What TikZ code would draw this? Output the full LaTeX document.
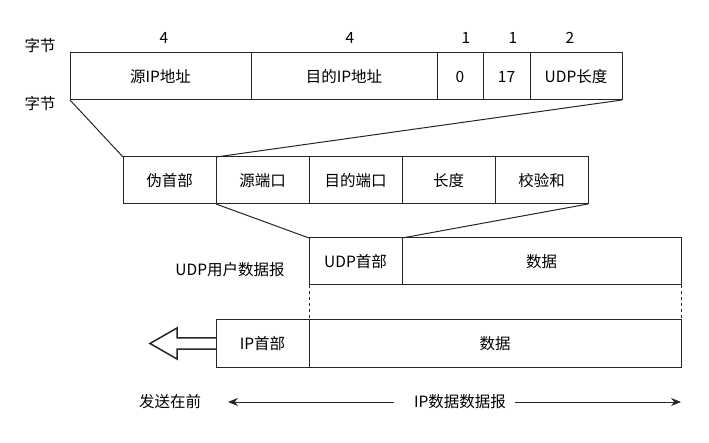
\documentclass[tikz,border=0pt]{standalone}
\usepackage{fontspec}
\setmainfont{Noto Sans CJK SC}
\usetikzlibrary{arrows.meta}
\tikzset{
	field/.style={draw=black!85, line width=1pt, inner sep=0pt, outer sep=0pt, minimum height=47pt},
	lbl/.style={inner sep=0pt, outer sep=0pt},
	link/.style={draw=black!85, line width=1pt}
}

\begin{document}
\begin{tikzpicture}[x=1pt, y=-1pt, font=\fontsize{15.5}{18}\selectfont]
		%%%%% START %%%%%
		\useasboundingbox (0, 0) rectangle (709, 443);
		
		\node[lbl] (unit1) at (40, 46) {字节};
		\node[lbl] (unit2) at (40, 104) {字节};
		
		\node[lbl] (n1) at (164, 38) {4};
		\node[lbl] (n2) at (350, 38) {4};
		\node[lbl] (n3) at (466, 38) {1};
		\node[lbl] (n4) at (513, 38) {1};
		\node[lbl] (n5) at (570, 38) {2};
		
		% pseudo header fields
		\node[field, minimum width=181pt] (srcip) at (160.5, 76.5) {源IP地址};
		\node[field, minimum width=186pt] (dstip) at (344, 76.5) {目的IP地址};
		\node[field, minimum width=46pt] (zero) at (460, 76.5) {0};
		\node[field, minimum width=47pt] (proto) at (506.5, 76.5) {17};
		\node[field, minimum width=92pt] (udplen) at (576, 76.5) {UDP长度};
		
		% udp header with pseudo header
		\node[field, minimum width=93pt] (pseudo) at (169.5, 180.5) {伪首部};
		\node[field, minimum width=93pt] (srcport) at (262.5, 180.5) {源端口};
		\node[field, minimum width=93pt] (dstport) at (355.5, 180.5) {目的端口};
		\node[field, minimum width=93pt] (len) at (448.5, 180.5) {长度};
		\node[field, minimum width=93pt] (csum) at (541.5, 180.5) {校验和};
		
		\draw[link] (srcip.south west) -- (pseudo.north west);
		\draw[link] (udplen.south east) -- (pseudo.north east);
		
		% udp datagram
		\node[lbl] (udpname) at (230, 270) {UDP用户数据报};
		\node[field, minimum width=93pt] (udphdr) at (355.5, 261.5) {UDP首部};
		\node[field, minimum width=279pt] (udpdata) at (541.5, 261.5) {数据};
		
		\draw[link] (srcport.south west) -- (udphdr.north west);
		\draw[link] (csum.south east) -- (udphdr.north east);
		
		% ip datagram
		\node[field, minimum width=93pt] (iphdr) at (262.5, 343.5) {IP首部};
		\node[field, minimum width=372pt] (ipdata) at (495, 343.5) {数据};
		
		\draw[link, dashed, dash pattern=on 3pt off 3pt] (udphdr.south west) -- (ipdata.north west);
		\draw[link, dashed, dash pattern=on 3pt off 3pt] (udpdata.south east) -- (ipdata.north east);
		
		\draw[link, line width=1.5pt, line join=miter] (216, 338) -- (177, 338) -- (177, 328) -- (150, 343.5) -- (177, 359) -- (177, 349) -- (216, 349);
		
		% sending order
		\node[lbl] (first) at (170, 402) {发送在前};
		\node[lbl] (dgram) at (460, 402) {IP数据数据报};
		\coordinate (lend) at (228, 402);
		\coordinate (rend) at (681, 402);
		\draw[link, -{Stealth[length=10pt, width=8pt]}] ([xshift=-20pt]dgram.west) -- (lend);
		\draw[link, -{Stealth[length=10pt, width=8pt]}] ([xshift=9pt]dgram.east) -- (rend);
		
		%%%%% END %%%%%
	\end{tikzpicture}
\end{document}
